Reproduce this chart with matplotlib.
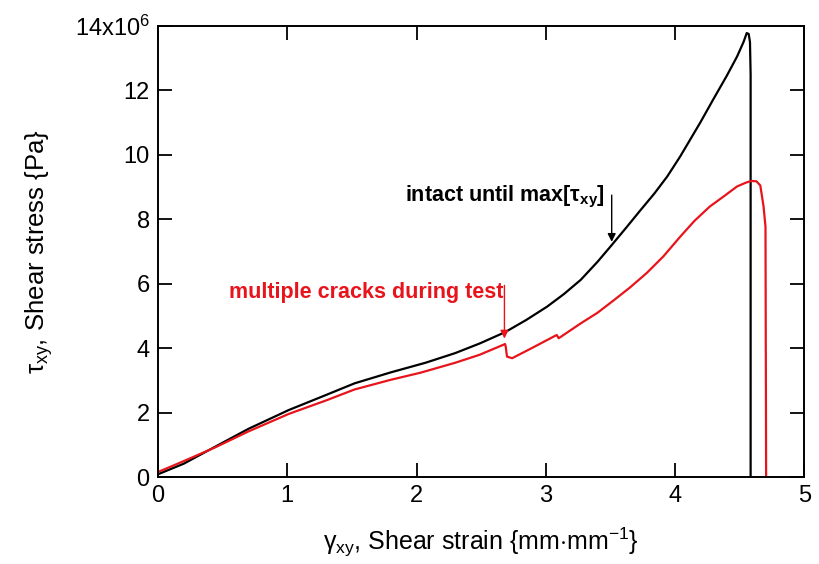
import matplotlib
matplotlib.use('Agg')
import matplotlib.pyplot as plt
import numpy as np

plt.rcParams['font.family'] = ['Liberation Sans', 'DejaVu Sans']
plt.rcParams['mathtext.fontset'] = 'custom'
plt.rcParams['mathtext.rm'] = 'Liberation Sans'
plt.rcParams['mathtext.it'] = 'Liberation Sans'
plt.rcParams['mathtext.bf'] = 'Liberation Sans:bold'

# intact specimen (black), stress in units of 1e6 Pa
strain_intact = [0.0, 0.2, 0.44, 0.7, 1.01, 1.3, 1.52, 1.8, 2.07, 2.3, 2.49,
                 2.686, 2.85, 3.01, 3.14, 3.27, 3.4, 3.51, 3.62, 3.73, 3.84,
                 3.94, 4.04, 4.195, 4.3, 4.4, 4.48, 4.53, 4.555, 4.57, 4.58,
                 4.585, 4.585]
stress_intact = [0.09, 0.42, 0.94, 1.5, 2.08, 2.55, 2.91, 3.25, 3.55, 3.85, 4.15,
                 4.5, 4.88, 5.29, 5.68, 6.12, 6.68, 7.2, 7.73, 8.27, 8.8,
                 9.33, 9.95, 11.0, 11.75, 12.45, 13.05, 13.5, 13.78, 13.75, 13.5,
                 12.5, 0.0]

# cracked specimen (red)
strain_crack = [0.0, 0.2, 0.44, 0.7, 1.01, 1.3, 1.52, 1.8, 2.03, 2.3, 2.49,
                2.685, 2.69, 2.70, 2.74, 2.88, 3.07, 3.085, 3.10, 3.27, 3.4,
                3.53, 3.65, 3.78, 3.91, 4.04, 4.15, 4.27, 4.38, 4.48, 4.55,
                4.59, 4.63, 4.66, 4.685, 4.70, 4.705]
stress_crack = [0.16, 0.5, 0.92, 1.42, 1.96, 2.38, 2.72, 3.02, 3.24, 3.55, 3.8,
                4.13, 4.05, 3.74, 3.69, 3.98, 4.38, 4.41, 4.31, 4.77, 5.1,
                5.5, 5.88, 6.33, 6.85, 7.46, 7.95, 8.4, 8.72, 9.02, 9.14,
                9.19, 9.18, 9.05, 8.4, 7.77, 0.0]

yticks = [0, 2, 4, 6, 8, 10, 12, 14]
ytick_labels = ['0', '2', '4', '6', '8', '10', '12', r'14x10$^{6}$']
xticks = [0, 1, 2, 3, 4, 5]

red = '#e8141c'

fig = plt.figure(figsize=(8.19, 5.64), dpi=100)
ax = fig.add_axes([0.193, 0.154, 0.789, 0.800])

ax.plot(strain_intact, stress_intact, color='black', lw=1.6)
ax.plot(strain_crack, stress_crack, color=red, lw=1.6)

ax.set_xlim(0, 5)
ax.set_ylim(0, 14)
ax.set_xticks(xticks)
ax.set_yticks(yticks)
ax.set_yticklabels(ytick_labels)
ax.tick_params(direction='in', length=10, width=1.3, top=True, right=True,
               labelsize=17, pad=6)
for s in ax.spines.values():
    s.set_linewidth(1.4)

ax.set_xlabel(r'$\gamma_{xy}$, Shear strain {mm$\cdot$mm$^{-1}$}', fontsize=18, labelpad=13)
ax.set_ylabel(r'$\tau_{xy}$, Shear stress {Pa}', fontsize=18.5, labelpad=14)

# annotations
ax.annotate('', xy=(3.51, 7.3), xytext=(3.51, 8.75),
            arrowprops=dict(arrowstyle='-|>', color='black', lw=1.0,
                            mutation_scale=12, shrinkA=0, shrinkB=0))
ax.text(1.91, 8.7, r'intact until max[$\mathbf{\tau_{xy}}$]', fontsize=15.5,
        fontweight='bold', color='black', va='center')

ax.annotate('', xy=(2.68, 4.3), xytext=(2.68, 5.95),
            arrowprops=dict(arrowstyle='-|>', color=red, lw=1.0,
                            mutation_scale=12, shrinkA=0, shrinkB=0))
ax.text(0.55, 5.72, 'multiple cracks during test', fontsize=15.5,
        fontweight='bold', color=red, va='center')

fig.savefig('out.png', dpi=100)
